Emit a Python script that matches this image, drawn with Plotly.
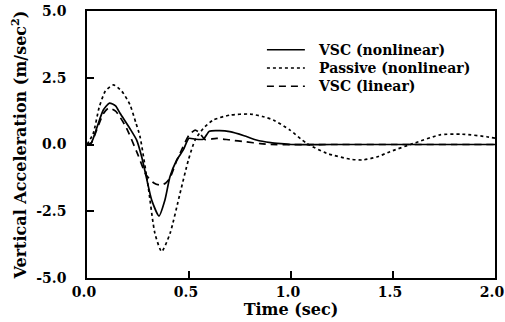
import plotly.graph_objects as go

# VSC (nonlinear)
t_vsc_nl = [0, 0.02, 0.05, 0.08, 0.11, 0.14, 0.162, 0.21, 0.243, 0.268, 0.29, 0.317, 0.353, 0.382, 0.407, 0.44, 0.472, 0.50, 0.53, 0.57, 0.60, 0.65, 0.70, 0.77, 0.83, 0.90, 0.95, 1.0, 1.2, 1.5, 1.8, 2.0]
a_vsc_nl = [0, 0.05, 0.67, 1.29, 1.55, 1.45, 1.17, 0.6, 0.17, -0.46, -1.2, -2.08, -2.68, -2.08, -1.2, -0.58, -0.2, 0.23, 0.2, 0.2, 0.5, 0.52, 0.48, 0.33, 0.17, 0.07, 0.03, 0.0, 0.0, 0.0, 0.0, 0.0]

# Passive (nonlinear)
t_passive = [0, 0.03, 0.06, 0.09, 0.13, 0.17, 0.21, 0.24, 0.26, 0.30, 0.333, 0.366, 0.407, 0.456, 0.497, 0.53, 0.57, 0.62, 0.70, 0.80, 0.86, 0.913, 0.995, 1.077, 1.175, 1.29, 1.35, 1.42, 1.485, 1.60, 1.73, 1.84, 1.96, 2.0]
a_passive = [0, 0.4, 1.4, 2.0, 2.23, 2.0, 1.5, 0.8, 0.29, -1.58, -3.33, -4.01, -3.33, -1.83, -0.58, 0.17, 0.6, 0.92, 1.10, 1.14, 1.05, 0.92, 0.54, 0.04, -0.33, -0.55, -0.58, -0.47, -0.27, 0.04, 0.36, 0.39, 0.29, 0.24]

# VSC (linear)
t_vsc_lin = [0, 0.02, 0.05, 0.08, 0.105, 0.14, 0.19, 0.25, 0.29, 0.33, 0.358, 0.385, 0.407, 0.44, 0.47, 0.50, 0.53, 0.55, 0.578, 0.635, 0.70, 0.78, 0.85, 0.90, 1.2, 1.5, 1.8, 2.0]
a_vsc_lin = [0, 0.05, 0.6, 1.15, 1.36, 1.25, 0.67, -0.39, -1.14, -1.45, -1.52, -1.45, -1.25, -0.6, -0.1, 0.35, 0.54, 0.45, 0.19, 0.23, 0.17, 0.1, 0.03, 0.0, 0.0, 0.0, 0.0, 0.0]

series_names = ["VSC (nonlinear)", "Passive (nonlinear)", "VSC (linear)"]

x_ticks = [0.0, 0.5, 1.0, 1.5, 2.0]
y_ticks = [-5.0, -2.5, 0.0, 2.5, 5.0]

FONT = "DejaVu Serif"
DASHES = ["solid", "3px,3px", "7px,5px"]

fig = go.Figure()
for tx, ay, name, dash in zip([t_vsc_nl, t_passive, t_vsc_lin], [a_vsc_nl, a_passive, a_vsc_lin], series_names, DASHES):
    fig.add_trace(go.Scatter(x=tx, y=ay, mode="lines", name=name, showlegend=False,
                             line=dict(color="black", width=1.7, dash=dash, shape="spline", smoothing=0.6)))

tickfont = dict(family=FONT, size=14, color="black", weight="bold")
titlefont = dict(family=FONT, size=16, color="black", weight="bold")
axis_common = dict(showgrid=False, zeroline=False, showline=True, linecolor="black", linewidth=1.5,
                   mirror=True, ticks="inside", ticklen=7, tickwidth=1.5, tickcolor="black",
                   tickfont=tickfont, automargin=False)

fig.update_xaxes(range=[0, 2.0], tickvals=x_ticks, ticktext=[f"{v:.1f}" for v in x_ticks],
                 ticklabelstandoff=0, ticklabelshift=-3, ticklabeloverflow="allow",
                 title=dict(text="Time (sec)", font=titlefont, standoff=0),
                 **axis_common)
fig.update_yaxes(range=[-5, 5], tickvals=y_ticks, ticktext=[f"{v:.1f}" for v in y_ticks],
                 ticklabelstandoff=16, ticklabeloverflow="allow",
                 title=dict(text="Vertical Acceleration (m/sec<sup>2</sup>)", font=titlefont, standoff=6),
                 **axis_common)

# Legend drawn as line samples + one multi-line text block
legend_rows_y = [0.8547, 0.7865, 0.7184]
for dash, yy in zip(DASHES, legend_rows_y):
    fig.add_shape(type="line", xref="paper", yref="paper", x0=0.441, x1=0.534, y0=yy, y1=yy,
                  line=dict(color="black", width=1.5, dash=dash))
fig.add_annotation(xref="paper", yref="paper", x=0.562, y=legend_rows_y[1], xanchor="left", yanchor="middle",
                   align="left", text="<br>".join(series_names), showarrow=False,
                   font=dict(family=FONT, size=14, color="black", weight="bold"))

fig.update_layout(
    width=505, height=322,
    margin=dict(l=87, r=10, t=11, b=44),
    plot_bgcolor="white", paper_bgcolor="white",
    font=dict(family=FONT, size=13, color="black"),
    showlegend=False,
)

fig.write_html("out.html")
